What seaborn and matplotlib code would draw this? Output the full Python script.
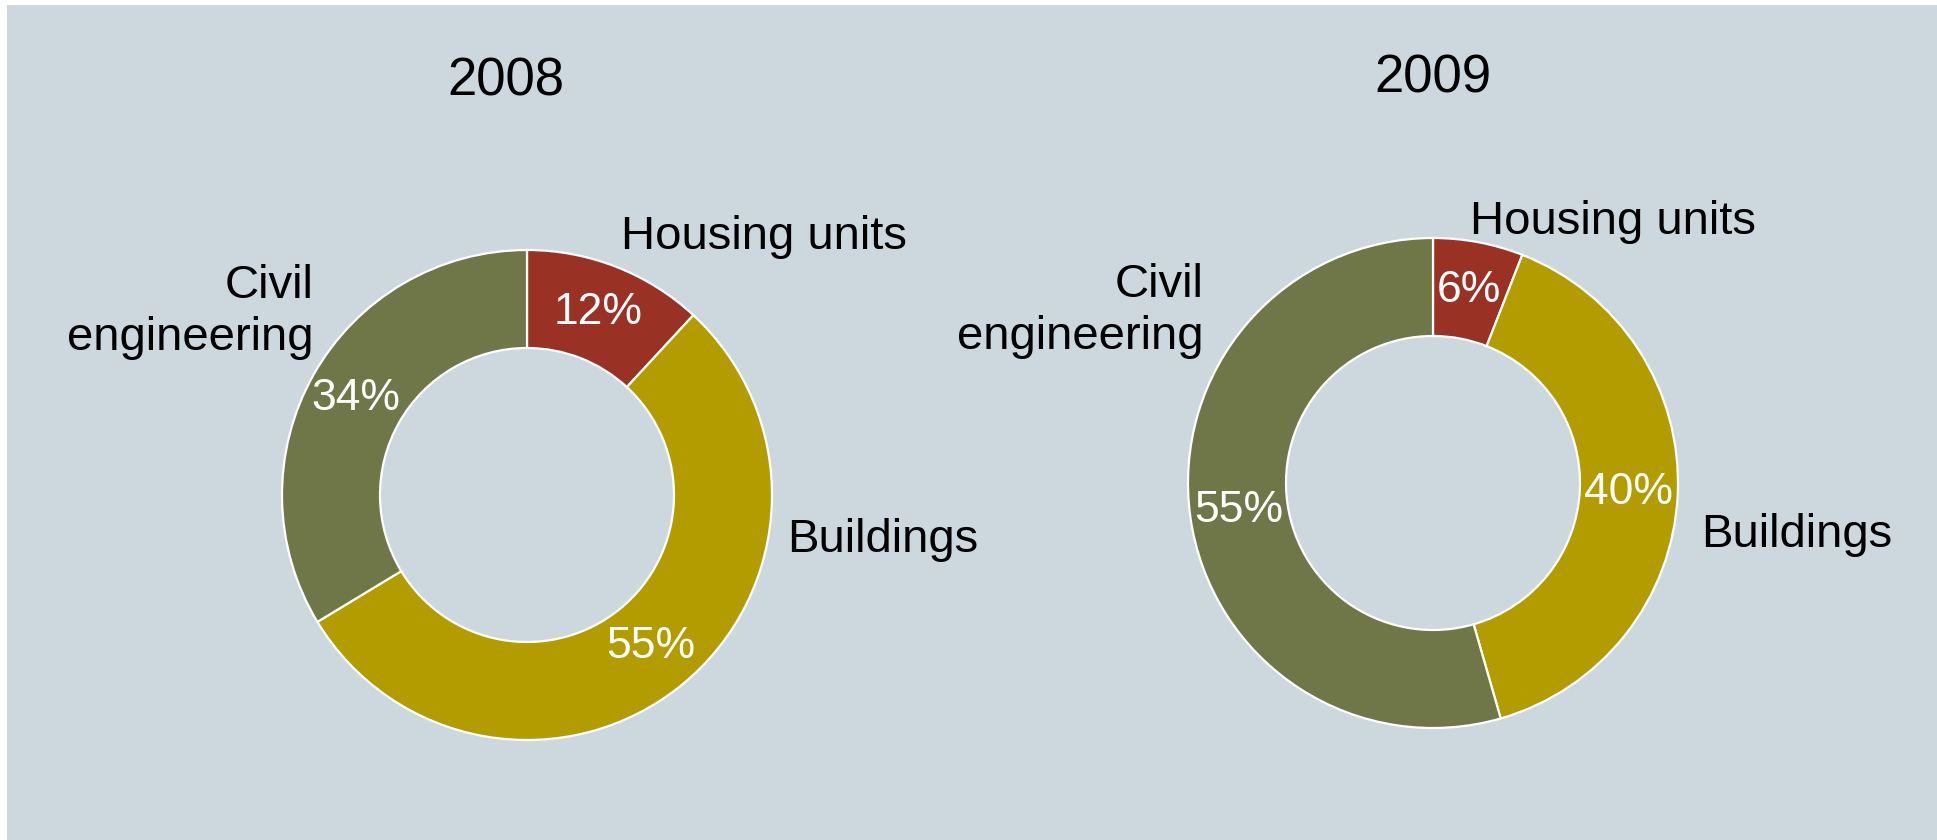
import matplotlib
matplotlib.use("Agg")
import matplotlib.pyplot as plt
import seaborn as sns
from matplotlib.patches import Rectangle

# data
years = ["2008", "2009"]
categories = ["Housing units", "Buildings", "Civil\nengineering"]
shares_2008 = [12, 55, 34]
shares_2009 = [6, 40, 55]
colors = ["#993224", "#b39c00", "#6f7647"]

sns.set_theme(style="white")
plt.rcParams["font.family"] = ["Liberation Sans", "DejaVu Sans"]

BG = "#ccd7de"
W, H = 1937, 840
fig = plt.figure(figsize=(W / 100, H / 100), dpi=100, facecolor="white")
fig.patches.append(Rectangle((7 / W, 0), 1, 1 - 5 / H, transform=fig.transFigure,
                             facecolor=BG, edgecolor="none", zorder=-10))

R = 245  # outer radius in px
half = 1.25 * R


def donut(cx, cy, values, title, label_pos, title_pos):
    ax = fig.add_axes([(cx - half) / W, (H - cy - half) / H, 2 * half / W, 2 * half / H])
    ax.set_facecolor("none")
    total = sum(values)
    wedges, _, autotexts = ax.pie(
        values, colors=colors, startangle=90, counterclock=False, radius=1,
        autopct=lambda p: f"{round(p * total / 100):.0f}%", pctdistance=0.80,
        wedgeprops=dict(width=0.40, edgecolor="white", linewidth=1.6),
        textprops=dict(color="white", fontsize=32),
    )
    ax.set_xlim(-1.25, 1.25)
    ax.set_ylim(-1.25, 1.25)
    ax.set_aspect("equal")
    ax.axis("off")
    for name, (x, y, ha) in zip(categories, label_pos):
        ax.text(x, y, name, ha=ha, va="center", fontsize=34, color="black",
                multialignment="right", linespacing=1.25, clip_on=False)
    ax.text(title_pos[0], title_pos[1], title, ha="center", va="center",
            fontsize=38, color="black", clip_on=False)
    return ax


donut(527, 495, shares_2008, years[0],
      [(0.384, 1.053, "left"), (1.061, -0.184, "left"), (-0.873, 0.747, "right")],
      (-0.086, 1.686))
donut(1433, 483, shares_2009, years[1],
      [(0.151, 1.065, "left"), (1.094, -0.212, "left"), (-0.935, 0.702, "right")],
      (0.0, 1.649))

fig.savefig("out.png", dpi=100, facecolor="white")
